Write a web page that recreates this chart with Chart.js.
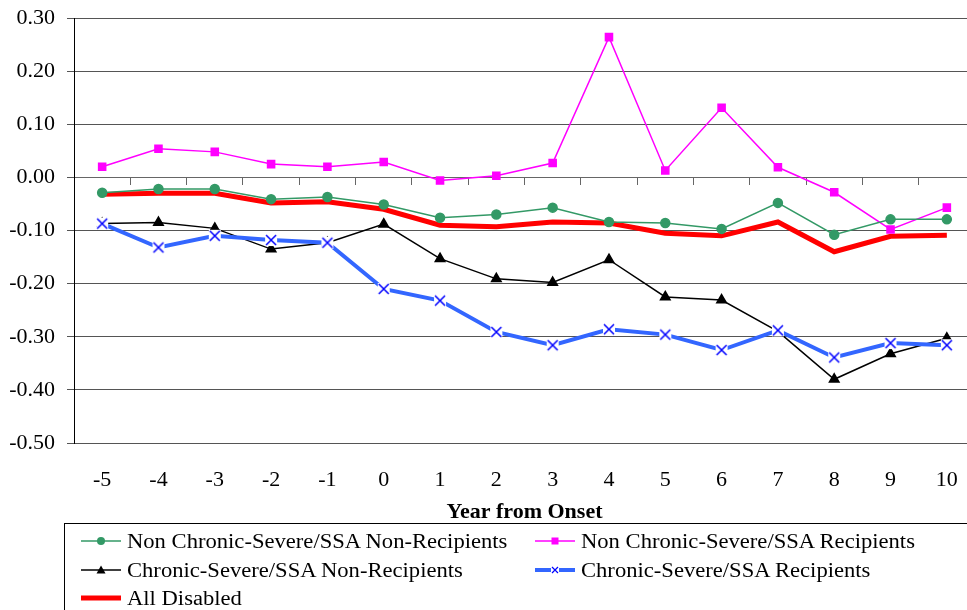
<!DOCTYPE html>
<html>
<head>
<meta charset="utf-8">
<script src="https://cdn.jsdelivr.net/npm/chart.js@4.4.1/dist/chart.umd.min.js"></script>
<style>
  html, body { margin: 0; padding: 0; background: #fff; overflow: hidden; width: 967px; height: 610px; }
  #lineChart { position: absolute; left: 0; top: 0; }
  #legend { position: absolute; left: 64px; top: 523px; width: 960px; height: 120px; border: 1px solid #000;
            box-sizing: border-box; font-family: "Liberation Serif", "Times New Roman", serif; font-size: 20px; }
  .item { position: absolute; height: 28px; line-height: 28px; white-space: nowrap; }
  .item svg { position: absolute; left: 0; top: 0; }
  .item span { position: absolute; left: 46px; top: 0; transform: scaleX(1.13); transform-origin: 0 50%; }
</style>
</head>
<body>
<canvas id="lineChart" width="986" height="526"></canvas>
<div id="legend"></div>
<script>
// x categories
var years = ["-5", "-4", "-3", "-2", "-1", "0", "1", "2", "3", "4", "5", "6", "7", "8", "9", "10"];

// series
var nonChronicNonRecip = [-0.029, -0.022, -0.022, -0.041, -0.037, -0.051, -0.076, -0.070, -0.057, -0.084, -0.086, -0.097, -0.048, -0.108, -0.079, -0.079];
var nonChronicRecip    = [0.020, 0.054, 0.048, 0.025, 0.020, 0.029, -0.006, 0.003, 0.027, 0.264, 0.013, 0.131, 0.019, -0.028, -0.098, -0.057];
var chronicNonRecip    = [-0.087, -0.085, -0.096, -0.135, -0.123, -0.088, -0.153, -0.191, -0.198, -0.155, -0.225, -0.231, -0.290, -0.380, -0.332, -0.303];
var chronicRecip       = [-0.087, -0.132, -0.110, -0.118, -0.123, -0.210, -0.232, -0.291, -0.316, -0.286, -0.296, -0.325, -0.288, -0.339, -0.312, -0.316];
var allDisabled        = [-0.032, -0.030, -0.030, -0.048, -0.046, -0.060, -0.090, -0.093, -0.084, -0.086, -0.105, -0.110, -0.084, -0.140, -0.111, -0.109];

var yMin = -0.5, yMax = 0.3, yStep = 0.1;

var serif = "'Liberation Serif', 'Times New Roman', serif";

// blue x marker with a white patch behind it
var xMark = document.createElement('canvas');
xMark.width = 14; xMark.height = 14;
var mc = xMark.getContext('2d');
mc.fillStyle = '#fff';
mc.fillRect(1, 1, 12, 12);
mc.strokeStyle = '#0000FF';
mc.lineWidth = 1.5;
mc.beginPath();
mc.moveTo(2, 2); mc.lineTo(12, 12);
mc.moveTo(12, 2); mc.lineTo(2, 12);
mc.stroke();

var ctxL = document.getElementById("lineChart");

var myLineChart = new Chart(ctxL, {
  type: 'line',
  data: {
    labels: years,
    datasets: [
      {
        label: "Chronic-Severe/SSA Recipients",
        data: chronicRecip,
        borderColor: '#3366FF',
        borderWidth: 4,
        pointStyle: xMark,
        pointRadius: 7,
        pointBorderColor: '#0000FF'
      },
      {
        label: "Non Chronic-Severe/SSA Non-Recipients",
        data: nonChronicNonRecip,
        borderColor: '#339966',
        borderWidth: 1.5,
        pointStyle: 'circle',
        pointRadius: 4.5,
        pointBackgroundColor: '#339966',
        pointBorderColor: '#339966'
      },
      {
        label: "Non Chronic-Severe/SSA Recipients",
        data: nonChronicRecip,
        borderColor: '#FF00FF',
        borderWidth: 1.5,
        pointStyle: 'rect',
        pointRadius: 5,
        pointBackgroundColor: '#FF00FF',
        pointBorderColor: '#FF00FF'
      },
      {
        label: "Chronic-Severe/SSA Non-Recipients",
        data: chronicNonRecip,
        borderColor: '#000000',
        borderWidth: 1.5,
        pointStyle: 'triangle',
        pointRadius: 5.5,
        pointBackgroundColor: '#000000',
        pointBorderColor: '#000000'
      },
      {
        label: "All Disabled",
        data: allDisabled,
        borderColor: '#FF0000',
        borderWidth: 5,
        pointRadius: 0
      }
    ]
  },
  options: {
    responsive: false,
    animation: false,
    layout: { padding: { top: 18, right: 0, left: 0, bottom: 0 } },
    elements: { line: { tension: 0 } },
    plugins: { legend: { display: false }, tooltip: { enabled: false } },
    scales: {
      x: {
        type: 'category',
        offset: true,
        grid: { display: false, drawTicks: false },
        border: { display: false },
        ticks: { color: '#000', font: { family: serif, size: 22 }, padding: 24, maxRotation: 0, autoSkip: false },
        title: { display: true, text: 'Year from Onset', color: '#000',
                 font: { family: serif, size: 22, weight: 'bold' }, padding: { top: 0, bottom: 0 } },
        afterFit: function (scale) { scale.height = 83; }
      },
      x0: {
        type: 'category',
        labels: years,
        position: { y: 0 },
        offset: true,
        grid: { offset: true, drawOnChartArea: false, drawTicks: true, tickLength: 7, color: '#666' },
        border: { display: true, color: '#666', width: 1 },
        ticks: { display: false },
        afterFit: function (scale) { scale.height = 0; }
      },
      y: {
        min: yMin,
        max: yMax,
        ticks: {
          stepSize: yStep,
          color: '#000',
          padding: 12,
          font: { family: serif, size: 22 },
          callback: function (v) { return Number(v).toFixed(2); }
        },
        grid: { color: '#555', tickLength: 7 },
        border: { display: true, color: '#000', width: 1 },
        afterFit: function (scale) { scale.width = 74; scale.paddingTop = 0; scale.paddingBottom = 0; }
      }
    }
  }
});

// legend built from the datasets
var legendRows = [
  { idx: 1, left: 16, top: 3 },
  { idx: 2, left: 470, top: 3 },
  { idx: 3, left: 16, top: 32 },
  { idx: 0, left: 470, top: 32 },
  { idx: 4, left: 16, top: 60 }
];
function markerSvg(ds) {
  var s = '<svg width="40" height="28">';
  s += '<line x1="0" y1="14" x2="40" y2="14" stroke="' + ds.borderColor + '" stroke-width="' + ds.borderWidth + '"/>';
  if (ds.pointStyle === 'circle') s += '<circle cx="20" cy="14" r="4" fill="' + ds.pointBackgroundColor + '"/>';
  if (ds.pointStyle === 'rect') s += '<rect x="16.5" y="10.5" width="7" height="7" fill="' + ds.pointBackgroundColor + '"/>';
  if (ds.pointStyle === 'triangle') s += '<polygon points="20,9.5 24.5,17.5 15.5,17.5" fill="' + ds.pointBackgroundColor + '"/>';
  if (ds.pointStyle === xMark) s += '<rect x="16" y="10" width="8" height="8" fill="#fff"/><path d="M17,11 L23,17 M23,11 L17,17" stroke="' + ds.pointBorderColor + '" stroke-width="1.2"/>';
  return s + '</svg>';
}
var legendEl = document.getElementById('legend');
legendRows.forEach(function (r) {
  var ds = myLineChart.data.datasets[r.idx];
  var d = document.createElement('div');
  d.className = 'item';
  d.style.left = r.left + 'px';
  d.style.top = r.top + 'px';
  d.innerHTML = markerSvg(ds) + '<span>' + ds.label + '</span>';
  legendEl.appendChild(d);
});
</script>
</body>
</html>
